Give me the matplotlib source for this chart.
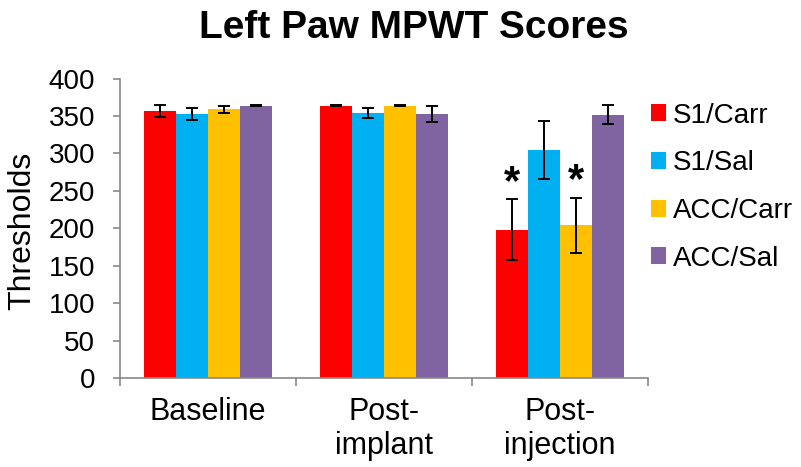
import numpy as np
import matplotlib
matplotlib.use("Agg")
import matplotlib.pyplot as plt

plt.rcParams['font.family'] = ['Liberation Sans', 'DejaVu Sans']

# data
categories = ["Baseline", "Post-\nimplant", "Post-\ninjection"]
groups = ["S1/Carr", "S1/Sal", "ACC/Carr", "ACC/Sal"]
means = {
    "S1/Carr":  [357, 364, 198],
    "S1/Sal":   [353, 354, 305],
    "ACC/Carr": [359, 364, 204],
    "ACC/Sal":  [364, 353, 352],
}
errors = {
    "S1/Carr":  [8, 0.5, 41],
    "S1/Sal":   [8, 7, 39],
    "ACC/Carr": [5, 0.5, 37],
    "ACC/Sal":  [0.5, 11, 12.5],
}
significant = {"S1/Carr": [2], "ACC/Carr": [2]}
colors = ["#FF0000", "#00B0F0", "#FFC000", "#8064A2"]

fig = plt.figure(figsize=(8.01, 4.67), dpi=100)
ax = fig.add_axes([0.1498, 0.1906, 0.659, 0.641])

x = np.arange(len(categories))
w = 0.182
for i, (g, c) in enumerate(zip(groups, colors)):
    pos = x + (i - 1.5) * w
    ax.bar(pos, means[g], w, color=c, label=g, zorder=2)
    ax.errorbar(pos, means[g], yerr=errors[g], fmt="none", ecolor="black",
                elinewidth=1.4, capsize=4, capthick=1.4, zorder=3)
    # asterisk above the significant bars
    for k in significant.get(g, []):
        ax.text(pos[k], means[g][k] + errors[g][k] - 5, "*", ha="center",
                va="bottom", fontsize=30, fontweight="bold")

ax.set_xlim(-0.5, 2.5)
ax.set_ylim(0, 400)
ax.set_yticks(np.arange(0, 401, 50))
ax.set_xticks(x)
ax.set_xticklabels(categories, fontsize=22, linespacing=1.15)
ax.set_xticks([-0.5, 0.5, 1.5, 2.5], minor=True)
ax.tick_params(axis="x", which="major", length=0, pad=14)
ax.tick_params(axis="x", which="minor", length=6, color="#898989", width=1.2)
ax.tick_params(axis="y", length=5, color="#898989", width=1.2, labelsize=20, pad=13)
for s in ["top", "right"]:
    ax.spines[s].set_visible(False)
for s in ["left", "bottom"]:
    ax.spines[s].set_color("#898989")
    ax.spines[s].set_linewidth(1.2)

ax.set_ylabel("Thresholds", fontsize=23)
ax.yaxis.set_label_coords(-0.157, 0.49)
fig.text(0.517, 0.94, "Left Paw MPWT Scores", ha="center", va="center",
         fontsize=28, fontweight="bold")

ax.legend(loc="upper left", bbox_to_anchor=(0.984, 0.957), frameon=False,
          fontsize=20, handlelength=0.55, handleheight=0.55,
          labelspacing=0.78, handletextpad=0.25, borderaxespad=0.0)

fig.savefig("out.png", dpi=100)
